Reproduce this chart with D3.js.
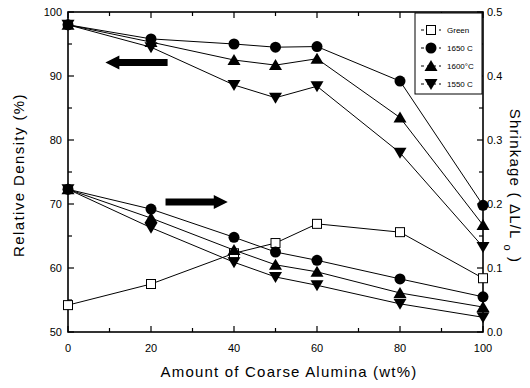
<!DOCTYPE html>
<html><head><meta charset="utf-8">
<script src="https://cdn.jsdelivr.net/npm/d3@7"></script>
<style>body{margin:0;background:#fff}svg{display:block}text{font-family:"Liberation Sans",Arial,sans-serif;fill:#000}</style>
</head><body><svg id="c" width="530" height="388"></svg>
<script>
const xVals = [0, 20, 40, 50, 60, 80, 100];
const greenDensity = [54.2, 57.5, 62.3, 63.9, 66.9, 65.6, 58.4];
const density1650 = [98.0, 95.8, 95.0, 94.5, 94.6, 89.2, 69.8];
const density1600 = [98.0, 95.3, 92.5, 91.7, 92.7, 83.5, 66.7];
const density1550 = [98.0, 94.5, 88.6, 86.6, 88.4, 78.0, 63.3];
const shrink1650 = [0.223, 0.192, 0.148, 0.125, 0.112, 0.083, 0.055];
const shrink1600 = [0.223, 0.178, 0.128, 0.105, 0.094, 0.061, 0.039];
const shrink1550 = [0.223, 0.163, 0.109, 0.086, 0.073, 0.044, 0.023];
const xTicks = [0, 20, 40, 60, 80, 100];
const yLeftTicks = [50, 60, 70, 80, 90, 100];
const yRightTicks = [0.0, 0.1, 0.2, 0.3, 0.4, 0.5];
const legendLabels = ["Green", "1650 C", "1600°C", "1550 C"];

const svg = d3.select("#c");
const m = {l: 68, r: 47, t: 12, b: 56};
const W = 530, H = 388;
const x = d3.scaleLinear().domain([0, 100]).range([m.l, W - m.r]);
const yL = d3.scaleLinear().domain([50, 100]).range([H - m.b, m.t]);
const yR = d3.scaleLinear().domain([0, 0.5]).range([H - m.b, m.t]);

// frame
svg.append("rect").attr("x", m.l).attr("y", m.t).attr("width", W - m.l - m.r).attr("height", H - m.t - m.b)
  .attr("fill", "none").attr("stroke", "#000").attr("stroke-width", 1.6);

const g = svg.append("g");
function tickLines(vals, len, pos) {
  vals.forEach(v => {
    if (pos === "b") g.append("line").attr("x1", x(v)).attr("x2", x(v)).attr("y1", H - m.b).attr("y2", H - m.b - len);
    if (pos === "t") g.append("line").attr("x1", x(v)).attr("x2", x(v)).attr("y1", m.t).attr("y2", m.t + len);
    if (pos === "l") g.append("line").attr("x1", m.l).attr("x2", m.l + len).attr("y1", yL(v)).attr("y2", yL(v));
    if (pos === "r") g.append("line").attr("x1", W - m.r).attr("x2", W - m.r - len).attr("y1", yR(v)).attr("y2", yR(v));
  });
}
tickLines(d3.range(0, 101, 20), 6, "b");
tickLines(d3.range(10, 100, 20), 4, "b");
tickLines(d3.range(0, 101, 20), 6, "t");
tickLines(d3.range(10, 100, 20), 4, "t");
tickLines(yLeftTicks, 6, "l");
tickLines(d3.range(55, 100, 10), 4, "l");
tickLines(yRightTicks, 6, "r");
tickLines(d3.range(0.05, 0.5, 0.1), 4, "r");
g.selectAll("line").attr("stroke", "#000").attr("stroke-width", 1.2);

// tick labels
svg.selectAll(".xl").data(xTicks).enter().append("text").attr("x", d => x(d)).attr("y", 352)
  .attr("text-anchor", "middle").attr("font-size", 11).text(d => d);
svg.selectAll(".yl").data(yLeftTicks).enter().append("text").attr("x", m.l - 6).attr("y", d => yL(d) + 4)
  .attr("text-anchor", "end").attr("font-size", 11).text(d => d);
svg.selectAll(".yr").data(yRightTicks).enter().append("text").attr("x", W - m.r + 4).attr("y", d => yR(d) + 4)
  .attr("text-anchor", "start").attr("font-size", 11).text(d => d.toFixed(1));

// axis titles
svg.append("text").attr("x", 289).attr("y", 377).attr("text-anchor", "middle").attr("font-size", 15)
  .attr("letter-spacing", 1.2).text("Amount of Coarse Alumina (wt%)");
svg.append("text").attr("transform", "translate(24,175) rotate(-90)").attr("text-anchor", "middle")
  .attr("font-size", 15).attr("letter-spacing", 1.4).text("Relative Density (%)");
const rt = svg.append("text").attr("transform", "translate(510,186) rotate(90)").attr("text-anchor", "middle")
  .attr("font-size", 15).attr("letter-spacing", 1.2);
rt.append("tspan").text("Shrinkage ( \u0394L/L ");
rt.append("tspan").attr("dy", 6).attr("font-size", 11).text("o");
rt.append("tspan").attr("dy", -6).text(" )");

// markers
function marker(sel, type) {
  if (type === "circle") sel.append("circle").attr("r", 5.5).attr("fill", "#000");
  if (type === "up") sel.append("path").attr("d", "M0,-6L6.5,5L-6.5,5Z").attr("fill", "#000");
  if (type === "down") sel.append("path").attr("d", "M0,6L6.5,-5L-6.5,-5Z").attr("fill", "#000");
  if (type === "square") sel.append("rect").attr("x", -4.5).attr("y", -4.5).attr("width", 9).attr("height", 9)
    .attr("fill", "#fff").attr("stroke", "#000").attr("stroke-width", 1);
}
function series(vals, yScale, type) {
  const pts = xVals.map((v, i) => [x(v), yScale(vals[i])]);
  svg.append("path").attr("d", d3.line()(pts)).attr("fill", "none").attr("stroke", "#000").attr("stroke-width", 1);
  pts.forEach(p => marker(svg.append("g").attr("transform", `translate(${p[0]},${p[1]})`), type));
}
series(greenDensity, yL, "square");
series(shrink1550, yR, "down");
series(shrink1600, yR, "up");
series(shrink1650, yR, "circle");
series(density1550, yL, "down");
series(density1600, yL, "up");
series(density1650, yL, "circle");

// arrows
function arrow(x0, x1, y) {
  const dir = Math.sign(x1 - x0);
  const hx = x1 - dir * 14;
  svg.append("path").attr("d", `M${x0},${y - 3.5}L${hx},${y - 3.5}L${hx},${y - 7}L${x1},${y}L${hx},${y + 7}L${hx},${y + 3.5}L${x0},${y + 3.5}Z`)
    .attr("fill", "#000");
}
arrow(x(24), x(9), yL(92.1));
arrow(x(23.5), x(38.5), yL(70.3));

// legend
const lg = svg.append("g");
lg.append("rect").attr("x", 415).attr("y", 13).attr("width", 67).attr("height", 81)
  .attr("fill", "#fff").attr("stroke", "#000").attr("stroke-width", 1);
const lt = ["square", "circle", "up", "down"];
legendLabels.forEach((t, i) => {
  const yy = 30 + i * 18;
  lg.append("line").attr("x1", 421).attr("x2", 441).attr("y1", yy).attr("y2", yy).attr("stroke", "#000").attr("stroke-width", 1).attr("stroke-dasharray", "3,3");
  marker(lg.append("g").attr("transform", `translate(431,${yy})`), lt[i]);
  lg.append("text").attr("x", 447).attr("y", yy + 3).attr("font-size", 8).text(t);
});
</script></body></html>
